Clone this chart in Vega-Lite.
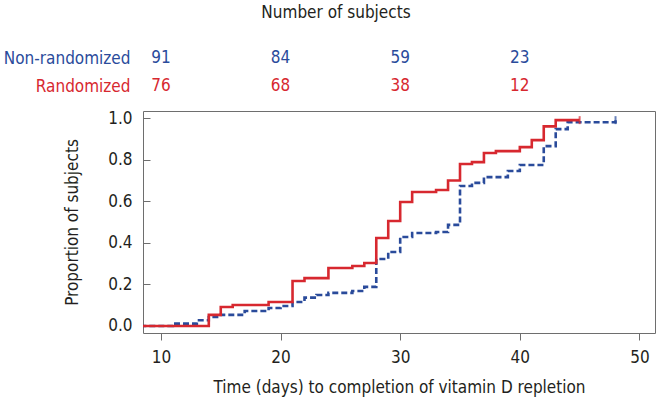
{
  "$schema": "https://vega.github.io/schema/vega-lite/v6.json",
  "padding": {"left": 3, "top": 4, "right": 5, "bottom": 3},
  "background": "white",
  "config": {
    "font": "DejaVu Sans Condensed, Roboto, sans-serif",
    "concat": {"spacing": 8},
    "axis": {"labelColor": "#231f20", "titleColor": "#231f20", "labelFontWeight": "normal", "titleFontWeight": "normal"}
  },
  "datasets": {
    "risk": [
      {"group": "Non-randomized", "time": 10, "n": 91},
      {"group": "Non-randomized", "time": 20, "n": 84},
      {"group": "Non-randomized", "time": 30, "n": 59},
      {"group": "Non-randomized", "time": 40, "n": 23},
      {"group": "Randomized", "time": 10, "n": 76},
      {"group": "Randomized", "time": 20, "n": 68},
      {"group": "Randomized", "time": 30, "n": 38},
      {"group": "Randomized", "time": 40, "n": 12}
    ],
    "curves": [
      {"group": "Non-randomized", "time": 0, "p": 0},
      {"group": "Non-randomized", "time": 11, "p": 0.011},
      {"group": "Non-randomized", "time": 13, "p": 0.027},
      {"group": "Non-randomized", "time": 14, "p": 0.043},
      {"group": "Non-randomized", "time": 15, "p": 0.053},
      {"group": "Non-randomized", "time": 17, "p": 0.072},
      {"group": "Non-randomized", "time": 19, "p": 0.086},
      {"group": "Non-randomized", "time": 20, "p": 0.096},
      {"group": "Non-randomized", "time": 21, "p": 0.115},
      {"group": "Non-randomized", "time": 22, "p": 0.136},
      {"group": "Non-randomized", "time": 23, "p": 0.149},
      {"group": "Non-randomized", "time": 24, "p": 0.159},
      {"group": "Non-randomized", "time": 26, "p": 0.168},
      {"group": "Non-randomized", "time": 27, "p": 0.188},
      {"group": "Non-randomized", "time": 28, "p": 0.322},
      {"group": "Non-randomized", "time": 29, "p": 0.356},
      {"group": "Non-randomized", "time": 30, "p": 0.428},
      {"group": "Non-randomized", "time": 31, "p": 0.447},
      {"group": "Non-randomized", "time": 33, "p": 0.452},
      {"group": "Non-randomized", "time": 34, "p": 0.486},
      {"group": "Non-randomized", "time": 35, "p": 0.673},
      {"group": "Non-randomized", "time": 36, "p": 0.688},
      {"group": "Non-randomized", "time": 37, "p": 0.716},
      {"group": "Non-randomized", "time": 39, "p": 0.745},
      {"group": "Non-randomized", "time": 40, "p": 0.774},
      {"group": "Non-randomized", "time": 42, "p": 0.865},
      {"group": "Non-randomized", "time": 43, "p": 0.947},
      {"group": "Non-randomized", "time": 44, "p": 0.98},
      {"group": "Non-randomized", "time": 48, "p": 0.99},
      {"group": "Randomized", "time": 0, "p": 0},
      {"group": "Randomized", "time": 14, "p": 0.053},
      {"group": "Randomized", "time": 15, "p": 0.091},
      {"group": "Randomized", "time": 16, "p": 0.101},
      {"group": "Randomized", "time": 19, "p": 0.115},
      {"group": "Randomized", "time": 21, "p": 0.216},
      {"group": "Randomized", "time": 22, "p": 0.23},
      {"group": "Randomized", "time": 24, "p": 0.279},
      {"group": "Randomized", "time": 26, "p": 0.288},
      {"group": "Randomized", "time": 27, "p": 0.303},
      {"group": "Randomized", "time": 28, "p": 0.423},
      {"group": "Randomized", "time": 29, "p": 0.505},
      {"group": "Randomized", "time": 30, "p": 0.596},
      {"group": "Randomized", "time": 31, "p": 0.644},
      {"group": "Randomized", "time": 33, "p": 0.654},
      {"group": "Randomized", "time": 34, "p": 0.7},
      {"group": "Randomized", "time": 35, "p": 0.779},
      {"group": "Randomized", "time": 36, "p": 0.788},
      {"group": "Randomized", "time": 37, "p": 0.832},
      {"group": "Randomized", "time": 38, "p": 0.841},
      {"group": "Randomized", "time": 40, "p": 0.86},
      {"group": "Randomized", "time": 41, "p": 0.894},
      {"group": "Randomized", "time": 42, "p": 0.96},
      {"group": "Randomized", "time": 43, "p": 0.99},
      {"group": "Randomized", "time": 45, "p": 0.99}
    ],
    "censor": [
      {"group": "Non-randomized", "time": 48, "p": 0.99},
      {"group": "Randomized", "time": 45, "p": 0.99}
    ]
  },
  "vconcat": [
    {
      "width": 512,
      "height": 56,
      "title": {"text": "Number of subjects", "fontSize": 17, "fontWeight": "normal", "color": "#231f20", "anchor": "middle", "dx": -63, "offset": 22},
      "view": {"stroke": null},
      "data": {"name": "risk"},
      "mark": {"type": "text", "fontSize": 17, "baseline": "middle", "align": "center"},
      "encoding": {
        "x": {"field": "time", "type": "quantitative", "scale": {"domain": [8.5, 51.3], "nice": false, "zero": false}, "axis": null},
        "y": {"field": "group", "type": "nominal", "sort": ["Non-randomized", "Randomized"], "title": null,
              "axis": {"ticks": false, "domain": false, "labelPadding": 13, "labelFontSize": 17, "labelLimit": 200, "minExtent": 140, "maxExtent": 140,
                       "labelColor": {"condition": {"test": "datum.value === 'Randomized'", "value": "#d7282f"}, "value": "#2a4b9b"}}},
        "text": {"field": "n", "type": "quantitative"},
        "color": {"field": "group", "type": "nominal", "scale": {"domain": ["Non-randomized", "Randomized"], "range": ["#2a4b9b", "#d7282f"]}, "legend": null}
      }
    },
    {
      "width": 512,
      "height": 222,
      "view": {"stroke": "#6e6e6e", "strokeWidth": 1},
      "encoding": {
        "x": {"field": "time", "type": "quantitative", "scale": {"domain": [8.5, 51.3], "nice": false, "zero": false},
              "axis": {"title": "Time (days) to completion of vitamin D repletion", "values": [10, 20, 30, 40, 50], "grid": false, "domain": false,
                       "tickSize": 7, "tickColor": "#6e6e6e", "labelFontSize": 17, "labelPadding": 9, "titleFontSize": 17, "titlePadding": 14}},
        "y": {"field": "p", "type": "quantitative", "scale": {"domain": [-0.034, 1.034], "nice": false, "zero": false},
              "axis": {"title": "Proportion of subjects", "values": [0, 0.2, 0.4, 0.6, 0.8, 1.0], "format": ".1f", "grid": false, "domain": false,
                       "tickSize": -7, "tickColor": "#6e6e6e", "labelFontSize": 17, "labelPadding": 18, "titleFontSize": 17,
                       "titleX": -71, "titleY": 111, "titleBaseline": "middle", "titleAlign": "center", "titleAngle": -90}},
        "color": {"field": "group", "type": "nominal", "scale": {"domain": ["Non-randomized", "Randomized"], "range": ["#2a4b9b", "#d7282f"]}, "legend": null}
      },
      "layer": [
        {
          "data": {"name": "curves"},
          "mark": {"type": "line", "interpolate": "step-after", "strokeWidth": 2.6, "clip": true},
          "encoding": {
            "strokeDash": {"field": "group", "type": "nominal", "scale": {"domain": ["Non-randomized", "Randomized"], "range": [[6, 3], [1, 0]]}, "legend": null}
          }
        },
        {
          "data": {"name": "censor"},
          "mark": {"type": "tick", "orient": "vertical", "size": 8, "thickness": 2}
        }
      ]
    }
  ]
}
